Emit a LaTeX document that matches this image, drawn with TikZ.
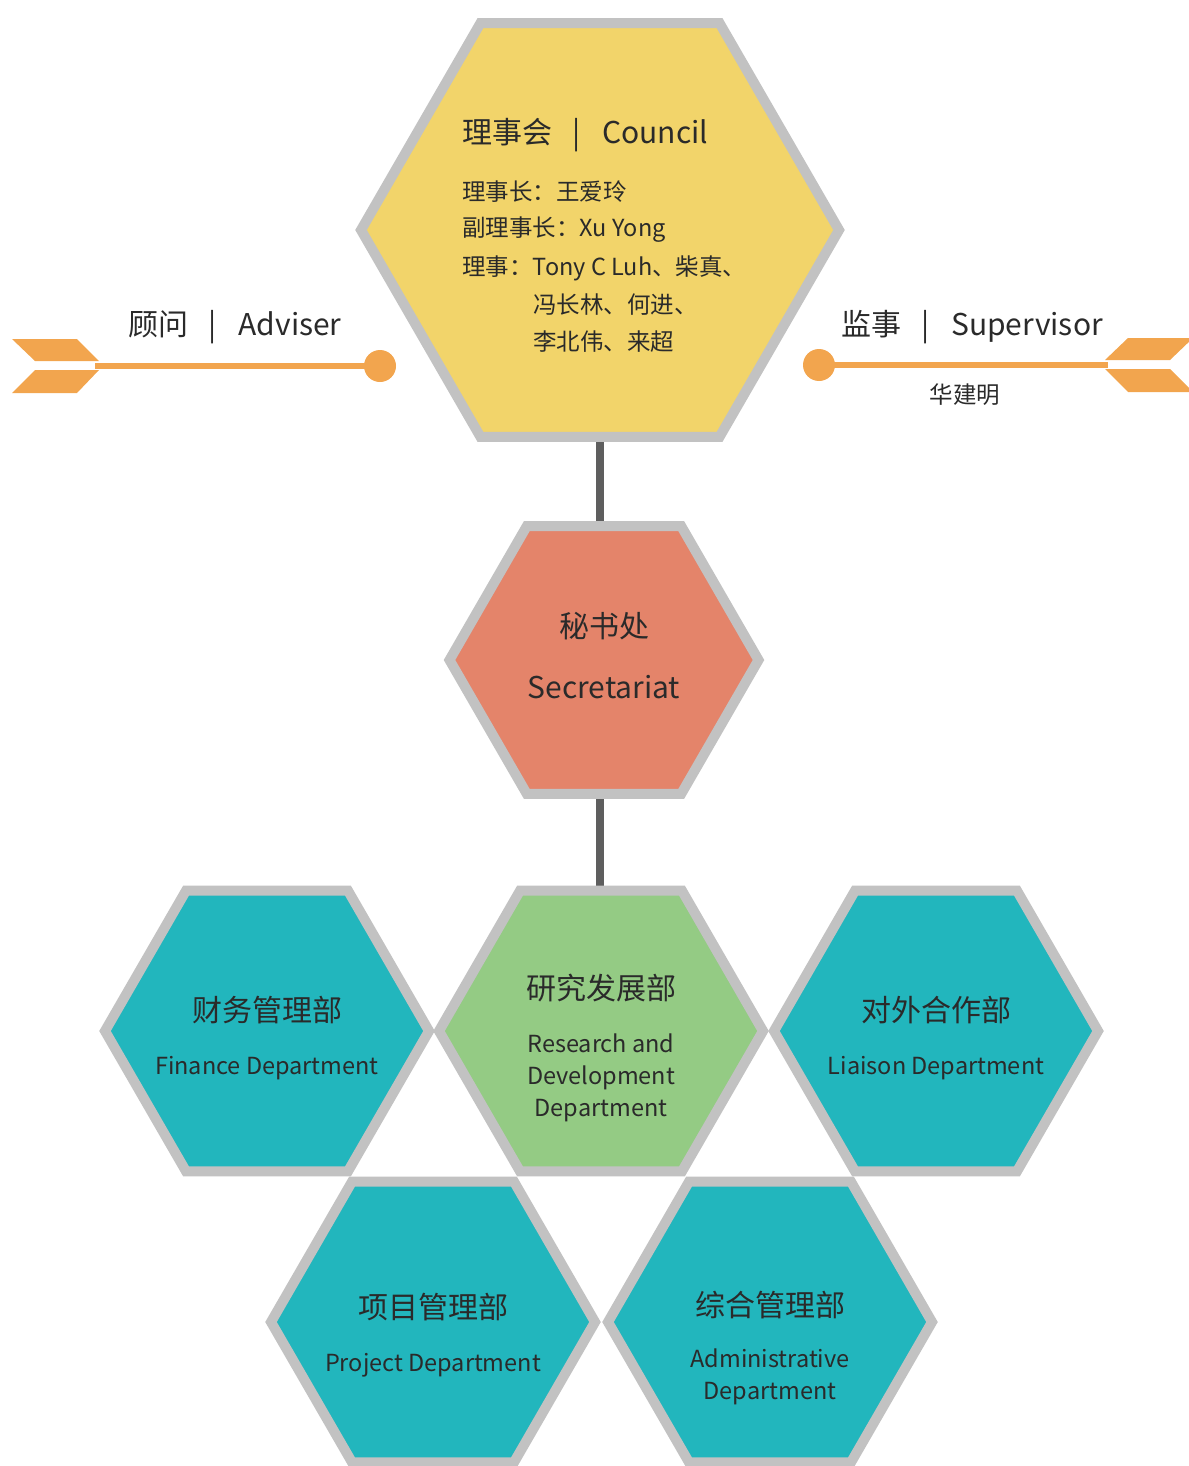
\documentclass[tikz,border=0pt]{standalone}
\usepackage{fontspec}
\setmainfont{Noto Sans CJK SC}
\usepackage{tikz}
\usetikzlibrary{shapes.geometric,backgrounds}

\definecolor{hexgray}{HTML}{C2C2C2}
\definecolor{councilyellow}{HTML}{F2D46A}
\definecolor{secretred}{HTML}{E4846A}
\definecolor{researchgreen}{HTML}{94CB84}
\definecolor{deptteal}{HTML}{22B6BD}
\definecolor{arroworange}{HTML}{F2A54E}
\definecolor{linkgray}{HTML}{5E5E5E}
\definecolor{inkdark}{HTML}{2A2A2A}

\tikzset{
  hexcell/.style={regular polygon, regular polygon sides=6, draw=hexgray,
    line width=10pt, inner sep=0pt, outer sep=0pt},
  link/.style={draw=linkgray, line width=8pt},
  shaft/.style={draw=arroworange, line width=6pt},
  bigtext/.style={font=\fontsize{30}{36}\selectfont, text=inkdark, inner sep=0pt},
  smalltext/.style={font=\fontsize{23.5}{32}\selectfont, text=inkdark, inner sep=0pt},
}

\begin{document}
\begin{tikzpicture}[x=1pt,y=-1pt]
                \useasboundingbox (0,0) rectangle (1188,1466);
                % hexagons
                \node[hexcell, minimum size=478pt, fill=councilyellow]
                    (council) at (600,230) {};
                \node[hexcell, minimum size=309pt, fill=secretred]
                    (secret) at (604,660) {};
                \node[hexcell, minimum size=324pt, fill=deptteal]
                    (finance) at (267,1031) {};
                \node[hexcell, minimum size=324pt, fill=researchgreen]
                    (research) at (601,1031) {};
                \node[hexcell, minimum size=324pt, fill=deptteal]
                    (liaison) at (936,1031) {};
                \node[hexcell, minimum size=324pt, fill=deptteal]
                    (project) at (433,1322) {};
                \node[hexcell, minimum size=324pt, fill=deptteal]
                    (admin) at (770,1322) {};
                % connectors
                \begin{scope}[on background layer]
                    \path[link] (council.center |- council.south) -- (council.center |- secret.north);
                    \path[link] (council.center |- secret.south) -- (council.center |- research.north);
                \end{scope}
                % council texts
                \node[bigtext, anchor=west]
                    (counciltitle) at (462,135) {理事会\hspace{20pt}|\hspace{22pt}Council};
                \node[smalltext, anchor=west]
                    (chair) at (462,192) {理事长：王爱玲};
                \node[smalltext, anchor=west]
                    (vicechair) at (462,230) {副理事长：Xu Yong};
                \node[smalltext, anchor=west]
                    (members) at (462,268) {理事：Tony C Luh、柴真、};
                \node[smalltext, anchor=west]
                    (membersb) at (533,305) {冯长林、何进、};
                \node[smalltext, anchor=west]
                    (membersc) at (533,342) {李北伟、来超};
                % adviser arrow
                \fill[arroworange] (12,339) -- (77,339) -- (99,361) -- (35,361) -- cycle;
                \fill[arroworange] (35,370) -- (99,370) -- (77,393) -- (12,393) -- cycle;
                \coordinate (advtail) at (95,366);
                \node[circle, fill=arroworange, minimum size=32pt, inner sep=0pt]
                    (advdot) at (380,366) {};
                \path[shaft] (advtail) -- (advdot.center);
                \node[bigtext]
                    (advlabel) at (235,327) {顾问\hspace{20pt}|\hspace{22pt}Adviser};
                % supervisor arrow
                \fill[arroworange] (1128,338) -- (1193,338) -- (1170,360) -- (1105,360) -- cycle;
                \fill[arroworange] (1105,369) -- (1170,369) -- (1193,392) -- (1128,392) -- cycle;
                \coordinate (suptail) at (1108,365);
                \node[circle, fill=arroworange, minimum size=32pt, inner sep=0pt]
                    (supdot) at (819,365) {};
                \path[shaft] (supdot.center) -- (suptail);
                \node[bigtext]
                    (suplabel) at (972,327) {监事\hspace{20pt}|\hspace{22pt}Supervisor};
                \node[smalltext]
                    (supname) at (965,395) {华建明};
                % secretariat
                \node[bigtext] (secretcn) at (604,626) {秘书处};
                \node[bigtext] (secreten) at (604,687) {Secretariat};
                % departments
                \node[bigtext] (financecn) at (267,1010) {财务管理部};
                \node[smalltext] (financeen) at (267,1068) {Finance Department};
                \node[bigtext] (researchcn) at (601,988) {研究发展部};
                \node[smalltext, align=center] (researchen) at (601,1078)
                    {Research and\\Development\\Department};
                \node[bigtext] (liaisoncn) at (936,1010) {对外合作部};
                \node[smalltext] (liaisonen) at (936,1068) {Liaison Department};
                \node[bigtext] (projectcn) at (433,1307) {项目管理部};
                \node[smalltext] (projecten) at (433,1365) {Project Department};
                \node[bigtext] (admincn) at (770,1305) {综合管理部};
                \node[smalltext, align=center] (adminen) at (770,1377)
                    {Administrative\\Department};
\end{tikzpicture}
\end{document}
